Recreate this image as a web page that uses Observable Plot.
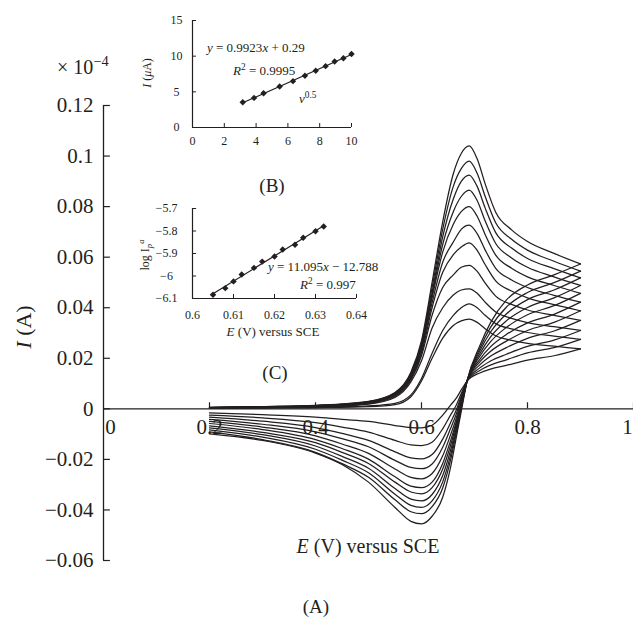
<!DOCTYPE html>
<html><head><meta charset="utf-8">
<script src="https://cdn.jsdelivr.net/npm/d3@7"></script>
<script src="https://cdn.jsdelivr.net/npm/@observablehq/plot@0.6"></script>
<style>
body{margin:0;background:#fff;}
#wrap{position:relative;width:633px;height:620px;overflow:hidden;background:#fff;}
#wrap svg{position:absolute;background:transparent;}
</style></head><body><div id="wrap"></div>
<script>
const FONT = "Liberation Serif, Times New Roman, serif";
const INK = "#231f20";

// ---- main chart (A): cyclic voltammograms, current in units of 1e-4 A ----
const mainYTicks = [-0.06,-0.04,-0.02,0,0.02,0.04,0.06,0.08,0.1,0.12];
const mainYLabels = ["−0.06","−0.04","−0.02","0","0.02","0.04","0.06","0.08","0.1","0.12"];
const mainXTicks = [0,0.2,0.4,0.6,0.8,1];
const mainXLabels = ["0","0.2","0.4","0.6","0.8","1"];

const fwdE = [0.2,0.3,0.4,0.5,0.55,0.58,0.6,0.62,0.64,0.66,0.675,0.69,0.705,0.72,0.74,0.77,0.8,0.85,0.9];
const fwdI = [
 [.0006,.0009,.0014,.003,.0065,.0145,.027,.050,.074,.093,.101,.104,.0989,.0891,.0778,.0708,.0662,.0615,.0573],
 [.0006,.0009,.0013,.0029,.0063,.014,.026,.048,.071,.088,.095,.098,.0932,.0841,.0736,.0671,.0628,.0584,.0545],
 [.0005,.0008,.0013,.0028,.0061,.0136,.025,.046,.068,.083,.090,.0925,.088,.0795,.0697,.0636,.0595,.0555,.0518],
 [.0005,.0008,.0012,.0027,.0059,.0132,.0245,.045,.065,.078,.084,.0865,.0824,.0744,.0654,.0597,.056,.0522,.0488],
 [.0005,.0007,.0011,.0026,.0057,.0128,.024,.044,.062,.073,.078,.080,.0762,.069,.0608,.0556,.0522,.0488,.0457],
 [.0004,.0007,.001,.0025,.0055,.0124,.023,.042,.058,.066,.071,.0727,.0693,.0629,.0556,.051,.048,.0449,.0422],
 [.0004,.0006,.0009,.0023,.0052,.0119,.022,.040,.054,.061,.064,.0657,.0627,.0571,.0506,.0466,.0439,.0412,.0388],
 [.0004,.0006,.0008,.0021,.0049,.0113,.021,.037,.048,.053,.056,.0568,.0544,.0498,.0446,.0413,.0391,.037,.035],
 [.0003,.0005,.0007,.0019,.0045,.0106,.019,.032,.040,.045,.047,.0475,.0457,.0422,.0383,.0358,.0341,.0325,.031],
 [.0003,.0004,.0006,.0012,.0022,.0055,.012,.022,.031,.037,.040,.0415,.04,.037,.0337,.0316,.0302,.0288,.0275],
 [.0002,.0003,.0005,.0009,.0017,.0048,.011,.020,.028,.033,.0348,.0355,.0342,.0317,.0289,.0271,.0259,.0248,.0237]
];
const revE = [0.9,0.85,0.8,0.76,0.73,0.71,0.686,0.675,0.665,0.655,0.64,0.62,0.6,0.58,0.55,0.5,0.45,0.4,0.3,0.2];
const revI = [
 [.0573,.053,.049,.043,.034,.025,.011,-.001,-.012,-.023,-.035,-.0425,-.0455,-.0445,-.039,-.029,-.022,-.0175,-.0125,-.0099],
 [.0545,.0499,.046,.0402,.0321,.0239,.011,0,-.0102,-.0201,-.0313,-.0387,-.0415,-.0407,-.036,-.0271,-.0217,-.0172,-.0122,-.0091],
 [.0518,.047,.0432,.0375,.0303,.0229,.011,.0006,-.009,-.0182,-.0289,-.0364,-.039,-.0382,-.0338,-.0253,-.0203,-.016,-.0112,-.0083],
 [.0488,.0439,.0401,.0348,.0284,.0218,.011,.0013,-.0079,-.0163,-.0264,-.0339,-.0364,-.0357,-.0315,-.0235,-.0188,-.0147,-.0102,-.0075],
 [.0457,.0408,.0372,.0322,.0265,.0208,.011,.0019,-.0066,-.0143,-.0238,-.0312,-.0336,-.0329,-.029,-.0216,-.0172,-.0134,-.0093,-.0067],
 [.0422,.0374,.034,.0294,.0245,.0196,.011,.0025,-.0056,-.0125,-.0216,-.029,-.0312,-.0306,-.0269,-.0199,-.0157,-.0122,-.0082,-.0058],
 [.0388,.0342,.031,.0268,.0227,.0186,.011,.0033,-.0041,-.0102,-.0186,-.0256,-.0277,-.0271,-.0238,-.0176,-.0139,-.0107,-.0072,-.005],
 [.035,.0308,.0279,.0242,.0208,.0174,.011,.0042,-.0024,-.0077,-.0152,-.0218,-.0237,-.0232,-.0204,-.015,-.0118,-.0091,-.0061,-.0042],
 [.031,.0272,.0247,.0216,.0189,.0162,.011,.005,-.0008,-.0054,-.012,-.0181,-.0198,-.0194,-.017,-.0125,-.0097,-.0074,-.0049,-.0033],
 [.0275,.0242,.0221,.0194,.0173,.0152,.011,.0061,.0012,-.0024,-.0079,-.0132,-.0146,-.0143,-.0125,-.0092,-.0072,-.0055,-.0036,-.0025],
 [.0237,.021,.0193,.0172,.0157,.0142,.011,.0075,.004,.0015,-.0025,-.0065,-.0075,-.0074,-.0066,-.005,-.0042,-.0033,-.0023,-.0016]
];

// ---- inset (B): peak current vs v^0.5 ----
const bX = [3.16,3.87,4.47,5.48,6.32,7.07,7.75,8.37,8.94,9.49,10.0];
const bY = [3.55,4.15,4.8,5.75,6.5,7.25,7.95,8.6,9.25,9.72,10.3];
const bXTicks = [0,2,4,6,8,10];
const bYTicks = [0,5,10,15];

// ---- inset (C): log Ip vs Ep ----
const cX = [0.605,0.608,0.610,0.612,0.615,0.617,0.620,0.622,0.625,0.627,0.630,0.632];
const cY = [-6.083,-6.054,-6.024,-5.993,-5.964,-5.936,-5.913,-5.882,-5.861,-5.830,-5.801,-5.780];
const cXTicks = [0.6,0.61,0.62,0.63,0.64];
const cXLabels = ["0.6","0.61","0.62","0.63","0.64"];
const cYTicks = [-6.1,-6,-5.9,-5.8,-5.7];
const cYLabels = ["−6.1","−6","−5.9","−5.8","−5.7"];

const rows = [];
fwdI.forEach((arr,k)=>arr.forEach((v,i)=>rows.push({E:fwdE[i], I:v, id:"f"+k})));
revI.forEach((arr,k)=>arr.forEach((v,i)=>rows.push({E:revE[i], I:v, id:"r"+k})));

const wrap = document.getElementById("wrap");

const main = Plot.plot({
  width:633, height:620, marginLeft:103, marginRight:0, marginTop:105, marginBottom:60,
  x:{domain:[0,1], axis:null}, y:{domain:[-0.06,0.12], axis:null},
  style:{fontFamily:FONT, background:"transparent", color:INK},
  marks:[
    Plot.ruleX([0], {y1:-0.06, y2:0.12, stroke:INK, strokeWidth:1.3}),
    Plot.ruleY([0], {x1:0, x2:1, stroke:INK, strokeWidth:1.3}),
    Plot.ruleY(mainYTicks, {y:d=>d, x1:0, x2:0.013, stroke:INK, strokeWidth:1.2}),
    Plot.ruleX(mainXTicks.slice(1), {x:d=>d, y1:0, y2:0.0024, stroke:INK, strokeWidth:1.2}),
    Plot.text(mainYTicks, {x:0, y:d=>d, text:(d,i)=>mainYLabels[i], textAnchor:"end", dx:-10, fontSize:21, fill:INK}),
    Plot.text(mainXTicks.slice(0,1), {x:d=>d, y:0, text:(d,i)=>mainXLabels[i], dx:7, dy:18, fontSize:21, fill:INK}),
    Plot.text(mainXTicks.slice(1,5), {x:d=>d, y:0, text:(d,i)=>mainXLabels[i+1], dy:18, fontSize:21, fill:INK}),
    Plot.text(mainXTicks.slice(5), {x:d=>d, y:0, text:(d,i)=>mainXLabels[i+5], dy:18, dx:-6, fontSize:21, fill:INK}),
    Plot.line(rows, {x:"E", y:"I", z:"id", curve:"monotone-x", stroke:INK, strokeWidth:1.25})
  ]
});
main.style.left = "0px"; main.style.top = "0px";
wrap.appendChild(main);

const bData = bX.map((x,i)=>({x, y:bY[i]}));
const insetB = Plot.plot({
  width:240, height:180, marginLeft:62, marginRight:19, marginTop:20, marginBottom:53,
  x:{domain:[0,10], axis:null}, y:{domain:[0,15], axis:null},
  style:{fontFamily:FONT, background:"transparent", color:INK},
  marks:[
    Plot.ruleX([0], {y1:0, y2:15, stroke:INK, strokeWidth:1.2}),
    Plot.ruleY([0], {x1:0, x2:10, stroke:INK, strokeWidth:1.2}),
    Plot.ruleY(bYTicks, {y:d=>d, x1:0, x2:0.25, stroke:INK}),
    Plot.ruleX(bXTicks.slice(1), {x:d=>d, y1:0, y2:0.56, stroke:INK}),
    Plot.text(bYTicks, {x:0, y:d=>d, text:d=>String(d), dx:-16, fontSize:12, fill:INK}),
    Plot.text(bXTicks, {x:d=>d, y:0, text:d=>String(d), dy:14, fontSize:12, fill:INK}),
    Plot.linearRegressionY(bData, {x:"x", y:"y", ci:0, stroke:INK, strokeWidth:1.2}),
    Plot.dot(bData, {x:"x", y:"y", symbol:"diamond2", r:2.9, fill:INK, stroke:"none"})
  ]
});
insetB.style.left = "130px"; insetB.style.top = "0px";
wrap.appendChild(insetB);

const cData = cX.map((x,i)=>({x, y:cY[i]}));
const insetC = Plot.plot({
  width:250, height:160, marginLeft:62, marginRight:24, marginTop:18, marginBottom:52,
  x:{domain:[0.6,0.64], axis:null}, y:{domain:[-6.1,-5.7], axis:null},
  style:{fontFamily:FONT, background:"transparent", color:INK},
  marks:[
    Plot.ruleX([0.6], {y1:-6.1, y2:-5.7, stroke:INK, strokeWidth:1.2}),
    Plot.ruleY([-6.1], {x1:0.6, x2:0.64, stroke:INK, strokeWidth:1.2}),
    Plot.ruleY(cYTicks, {y:d=>d, x1:0.6, x2:0.601, stroke:INK}),
    Plot.ruleX(cXTicks.slice(1), {x:d=>d, y1:-6.1, y2:-6.082, stroke:INK}),
    Plot.text(cYTicks, {x:0.6, y:d=>d, text:(d,i)=>cYLabels[i], dx:-26, fontSize:12, fill:INK}),
    Plot.text(cXTicks, {x:d=>d, y:-6.1, text:(d,i)=>cXLabels[i], dy:17, fontSize:12, fill:INK}),
    Plot.linearRegressionY(cData, {x:"x", y:"y", ci:0, stroke:INK, strokeWidth:1.2}),
    Plot.dot(cData, {x:"x", y:"y", symbol:"diamond2", r:2.9, fill:INK, stroke:"none"})
  ]
});
insetC.style.left = "130px"; insetC.style.top = "190px";
wrap.appendChild(insetC);

// ---- rich text labels (italics, super/subscripts) ----
function addText(svg, o, parts){
  const size = o.size;
  const t = d3.select(svg).append("text")
    .attr("font-family", FONT).attr("font-size", size).attr("fill", INK)
    .attr("text-anchor", o.anchor || "start");
  if (o.rotate) t.attr("transform", `translate(${o.x},${o.y}) rotate(${o.rotate})`);
  else t.attr("x", o.x).attr("y", o.y);
  let shift = 0;
  for (const p of parts){
    const s = typeof p === "string" ? {t:p} : p;
    const target = s.sup ? -size*0.4 : s.sub ? size*0.25 : 0;
    const ts = t.append("tspan").text(s.t);
    if (target !== shift){ ts.attr("dy", target - shift); shift = target; }
    if (s.i) ts.attr("font-style","italic");
    if (s.sup || s.sub) ts.attr("font-size", size*0.72);
  }
}
const svg = main;
addText(svg, {x:57, y:74, size:20}, ["× 10", {t:"−4", sup:true}]);
addText(svg, {x:31, y:327, size:22, anchor:"middle", rotate:-90}, [{t:"I", i:true}, " (A)"]);
addText(svg, {x:368, y:553, size:20, anchor:"middle"}, [{t:"E", i:true}, " (V) versus SCE"]);
addText(svg, {x:316, y:613, size:19, anchor:"middle"}, ["(A)"]);
// inset B texts
addText(svg, {x:207, y:52, size:13}, [{t:"y", i:true}, " = 0.9923", {t:"x", i:true}, " + 0.29"]);
addText(svg, {x:233, y:75, size:13}, [{t:"R", i:true}, {t:"2", sup:true}, {t:" = 0.9995"}]);
addText(svg, {x:299, y:103, size:13}, [{t:"ν", i:true}, {t:"0.5", sup:true}]);
addText(svg, {x:151, y:73, size:12, anchor:"middle", rotate:-90}, [{t:"I", i:true}, " (", {t:"μ", i:true}, "A)"]);
addText(svg, {x:272, y:192, size:19, anchor:"middle"}, ["(B)"]);
// inset C texts
addText(svg, {x:268, y:271, size:13}, [{t:"y", i:true}, " = 11.095", {t:"x", i:true}, " − 12.788"]);
addText(svg, {x:300, y:289, size:13}, [{t:"R", i:true}, {t:"2", sup:true}, {t:" = 0.997"}]);
addText(svg, {x:149, y:255, size:12, anchor:"middle", rotate:-90}, ["log I", {t:"p", i:true, sub:true}, {t:"a", i:true, sup:true}]);
addText(svg, {x:273, y:336, size:13, anchor:"middle"}, [{t:"E", i:true}, " (V) versus SCE"]);
addText(svg, {x:275, y:379, size:19, anchor:"middle"}, ["(C)"]);
</script>
</body></html>
